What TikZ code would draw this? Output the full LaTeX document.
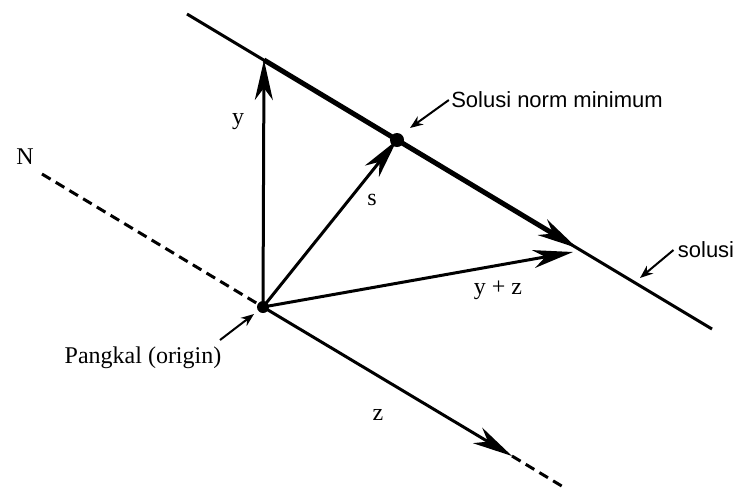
\documentclass[tikz,border=0pt]{standalone}
\usepackage{fontspec}
\setmainfont{Liberation Serif}
\setsansfont{Liberation Sans}
\usetikzlibrary{arrows.meta,calc}

\begin{document}
\begin{tikzpicture}[x=0.5pt, y=-0.5pt,
        vec/.style = {draw, line width=1.5pt, -{Stealth[length=20pt,width=9pt,inset=6pt]}},
        pointer/.style = {draw, line width=1pt, -{Stealth[length=6.5pt,width=5pt]}},
        lbl/.style = {font=\fontsize{12}{14}\selectfont, inner sep=0pt},
        note/.style = {font=\sffamily\fontsize{11}{13}\selectfont, inner sep=0pt}]
        \useasboundingbox (0,0) rectangle (737,499);
        \coordinate(L1) at (187,14);
        \coordinate(L2) at (712,329);
        \coordinate(O) at (263,307);
        \coordinate(Y) at (264,60);
        \coordinate(S) at (397,140);
        \coordinate(YZ) at (577,248);
        \coordinate(YZend) at (573,252);
        \coordinate(N0) at (42,174);
        \coordinate(Z) at (512,456);
        \coordinate(Z1) at (565,488);
        \coordinate(pkTail) at (220,340);
        \coordinate(pkTip) at (254,314);
        \coordinate(snmTip) at (410,128);
        \coordinate(solTip) at (640,278);
        
        % solution line
        \path[draw, line width=1.5pt](L1) to (L2);
        % z shifted along the line
        \path[vec, line width=2.5pt](Y) to (YZ);
        % null space
        \path[draw, line width=1.5pt, dash pattern=on 5pt off 3pt](N0) to (O);
        \path[draw, line width=1.5pt, dash pattern=on 5pt off 3pt](Z) to (Z1);
        % vectors from the origin
        \path[vec](O) to (Y);
        \path[vec](O) to (S);
        \path[vec](O) to (YZend);
        \path[vec](O) to (Z);
        % points
        \path[fill](O) circle[radius=3pt];
        \path[fill](S) circle[radius=3.5pt];
        
        % labels
        \node[lbl](nlbl) at (25,157) {N};
        \node[lbl](ylbl) at (238,122) {y};
        \node[lbl](slbl) at (372,200) {s};
        \node[lbl](yzlbl) at (498,290) {y + z};
        \node[lbl](zlbl) at (378,415) {z};
        \node[lbl](pangkal) at (143,358) {Pangkal (origin)};
        \node[note](snm) at (557,100) {Solusi norm minimum};
        \node[note](sol) at (706,250) {solusi};
        % pointers
        \path[pointer](pkTail) to (pkTip);
        \path[pointer]([xshift=-1pt]snm.west) to (snmTip);
        \path[pointer]([xshift=-2pt]sol.west) to (solTip);
\end{tikzpicture}
\end{document}
